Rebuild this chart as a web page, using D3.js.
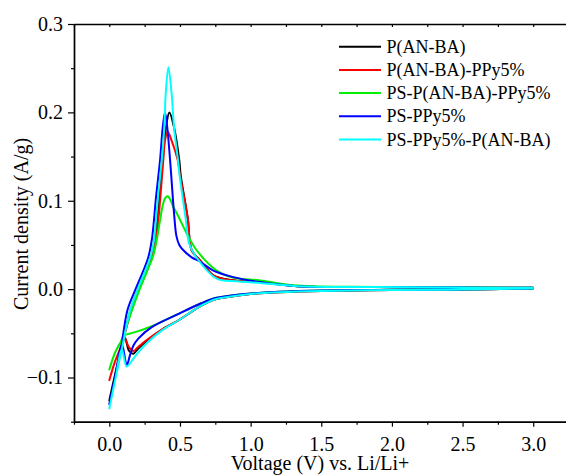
<!DOCTYPE html>
<html>
<head>
<meta charset="utf-8">
<script src="https://cdn.jsdelivr.net/npm/d3@7"></script>
<style>
  html, body { margin: 0; padding: 0; background: #fff; }
  svg { display: block; }
  svg text { font-family: "Liberation Serif", "Times New Roman", serif !important; fill: #000; }
</style>
</head>
<body>
<svg id="chart" width="566" height="475"></svg>
<script>
// ---- Data (Voltage V, Current density A/g), cathodic sweep 3.0 -> 0 then anodic 0 -> 3.0 ----
const seriesNames = ["P(AN-BA)", "P(AN-BA)-PPy5%", "PS-P(AN-BA)-PPy5%", "PS-PPy5%", "PS-PPy5%-P(AN-BA)"];
const seriesColors = ["#000000", "#ff0000", "#00ee00", "#0000ff", "#00ffff"];

const pAnBa = [
  [3.0,0.0008],[2.5,-0.0005],[2.0,-0.001],[1.5,-0.002],[1.2,-0.0035],[1.0,-0.0055],[0.85,-0.0085],[0.75,-0.0115],
  [0.654,-0.0185],[0.488,-0.0355],[0.37,-0.046],[0.253,-0.06],[0.2,-0.068],[0.17,-0.073],[0.14,-0.07],[0.11,-0.055],
  [0.08,-0.07],[0.04,-0.097],[0,-0.126],
  [0.04,-0.097],[0.08,-0.07],[0.15,-0.024],[0.2,-0.0015],[0.26,0.021],[0.295,0.036],[0.323,0.055],[0.34,0.078],
  [0.352,0.1],[0.378,0.146],[0.401,0.183],[0.425,0.2],[0.458,0.183],[0.495,0.146],[0.505,0.129],
  [0.555,0.08],[0.583,0.044],[0.642,0.0325],[0.736,0.0155],[0.807,0.0118],[0.9,0.0095],[1.066,0.008],
  [1.33,0.0034],[1.9,0.0023],[2.5,0.0018],[3.0,0.0016]
];
const pAnBaPPy = [
  [3.0,0.0008],[2.5,-0.0005],[2.0,-0.001],[1.5,-0.002],[1.2,-0.0035],[1.0,-0.0055],[0.85,-0.0085],[0.75,-0.0115],
  [0.654,-0.0185],[0.488,-0.0355],[0.37,-0.046],[0.253,-0.059],[0.2,-0.066],[0.17,-0.07],[0.14,-0.066],[0.115,-0.057],
  [0.105,-0.054],[0.08,-0.066],[0.04,-0.082],[0,-0.103],
  [0.04,-0.082],[0.08,-0.066],[0.11,-0.05],[0.155,-0.024],[0.205,-0.0015],[0.265,0.021],[0.3,0.036],[0.33,0.055],
  [0.347,0.078],[0.359,0.1],[0.382,0.146],[0.394,0.168],[0.413,0.178],[0.441,0.168],[0.484,0.146],[0.5,0.129],
  [0.555,0.08],[0.583,0.044],[0.642,0.0325],[0.736,0.0155],[0.807,0.0115],[0.9,0.0095],[1.066,0.008],
  [1.33,0.0034],[1.9,0.0023],[2.5,0.0018],[3.0,0.0016]
];
const psPAnBaPPy = [
  [3.0,0.0008],[2.5,-0.0003],[2.0,-0.0008],[1.5,-0.0015],[1.2,-0.003],[1.0,-0.005],[0.85,-0.0075],[0.75,-0.01],
  [0.65,-0.016],[0.49,-0.028],[0.394,-0.035],[0.3,-0.042],[0.205,-0.0475],[0.14,-0.0505],[0.11,-0.052],
  [0.08,-0.06],[0.04,-0.072],[0,-0.091],
  [0.04,-0.072],[0.08,-0.06],[0.11,-0.047],[0.16,-0.024],[0.212,-0.0015],[0.269,0.021],[0.307,0.036],[0.335,0.055],
  [0.359,0.078],[0.378,0.095],[0.395,0.103],[0.413,0.105],[0.435,0.1],[0.453,0.093],[0.48,0.085],[0.548,0.063],
  [0.618,0.044],[0.76,0.021],[0.878,0.0129],[1.066,0.0099],[1.33,0.004],[1.9,0.0025],[2.5,0.0019],[3.0,0.0016]
];
const psPPy = [
  [3.0,0.0008],[2.5,-0.0003],[2.0,-0.0008],[1.5,-0.0015],[1.2,-0.003],[1.0,-0.005],[0.85,-0.0075],[0.75,-0.01],
  [0.65,-0.016],[0.49,-0.028],[0.3,-0.043],[0.205,-0.056],[0.17,-0.064],[0.146,-0.075],[0.123,-0.086],
  [0.09,-0.063],[0.04,-0.1],[0,-0.13],
  [0.04,-0.1],[0.08,-0.07],[0.128,-0.024],[0.182,-0.0015],[0.241,0.021],[0.276,0.036],[0.3,0.055],[0.316,0.078],
  [0.328,0.1],[0.359,0.146],[0.378,0.183],[0.394,0.2],[0.41,0.183],[0.43,0.146],[0.46,0.082],
  [0.475,0.06],[0.495,0.05],[0.524,0.044],[0.583,0.036],[0.642,0.031],[0.736,0.021],[0.878,0.0136],[1.066,0.008],
  [1.33,0.0034],[1.9,0.0023],[2.5,0.0018],[3.0,0.0016]
];
const psPPyPAnBa = [
  [3.0,0.0008],[2.5,-0.0005],[2.0,-0.001],[1.5,-0.002],[1.2,-0.0035],[1.0,-0.0055],[0.85,-0.0085],[0.75,-0.0115],
  [0.654,-0.0185],[0.488,-0.0355],[0.37,-0.047],[0.253,-0.063],[0.182,-0.076],[0.123,-0.0875],[0.088,-0.068],
  [0.045,-0.1],[0,-0.135],
  [0.045,-0.1],[0.088,-0.068],[0.147,-0.024],[0.198,-0.0015],[0.255,0.021],[0.29,0.036],[0.316,0.055],[0.33,0.078],
  [0.342,0.1],[0.371,0.146],[0.389,0.183],[0.399,0.221],[0.418,0.251],[0.441,0.221],[0.458,0.183],[0.486,0.146],
  [0.497,0.129],[0.54,0.08],[0.566,0.051],[0.618,0.0355],[0.76,0.0118],[0.9,0.009],[1.066,0.007],
  [1.33,0.0034],[1.9,0.0023],[2.5,0.0018],[3.0,0.0016]
];
const seriesData = [pAnBa, pAnBaPPy, psPAnBaPPy, psPPy, psPPyPAnBa];

const xMajorTicks = [0.0, 0.5, 1.0, 1.5, 2.0, 2.5, 3.0];
const xMinorTicks = [-0.25, 0.25, 0.75, 1.25, 1.75, 2.25, 2.75, 3.25];
const yMajorTicks = [-0.1, 0.0, 0.1, 0.2, 0.3];
const yMinorTicks = [-0.15, -0.05, 0.05, 0.15, 0.25];
const xTitle = "Voltage (V) vs. Li/Li+";
const yTitle = "Current density (A/g)";

// ---- Layout ----
const FONT = "'Liberation Serif', 'Times New Roman', serif";
const svg = d3.select("#chart");
const plotLeft = 74, plotTop = 24, plotBottom = 421.7;
const x = d3.scaleLinear().domain([-0.25, 3.25]).range([plotLeft, plotLeft + 3.5 * 141.3]);
const y = d3.scaleLinear().domain([-0.15, 0.3]).range([plotBottom, plotTop]);
const fmt = d3.format(".1f");

// Bottom axis
const gx = svg.append("g").attr("transform", `translate(0,${plotBottom})`);
gx.call(d3.axisBottom(x).tickValues(xMajorTicks).tickSize(5).tickSizeOuter(0).tickFormat(fmt));
gx.append("g").call(d3.axisBottom(x).tickValues(xMinorTicks).tickSize(3).tickSizeOuter(0).tickFormat(""));
// Top axis (ticks inward)
const gt = svg.append("g").attr("transform", `translate(0,${plotTop})`);
gt.call(d3.axisBottom(x).tickValues(xMajorTicks.concat(xMinorTicks)).tickSize(3).tickSizeOuter(0).tickFormat(""));
// Left axis
const gy = svg.append("g").attr("transform", `translate(${plotLeft},0)`);
gy.call(d3.axisLeft(y).tickValues(yMajorTicks).tickSize(6).tickSizeOuter(0).tickPadding(5).tickFormat(fmt));
gy.append("g").call(d3.axisLeft(y).tickValues(yMinorTicks).tickSize(3).tickSizeOuter(0).tickFormat(""));

svg.selectAll("g").attr("font-family", FONT);
svg.selectAll(".domain").attr("stroke", "#000").attr("stroke-width", 1.4);
svg.selectAll(".tick line").attr("stroke", "#000").attr("stroke-width", 1.2);
svg.selectAll(".tick text").style("font-family", FONT).attr("font-size", 20).attr("fill", "#000");
gx.selectAll(".tick text").attr("dy", "1.05em");

// Data lines
const line = d3.line().x(d => x(d[0])).y(d => y(d[1])).curve(d3.curveCatmullRom.alpha(0.5));
svg.append("g").selectAll("path").data(seriesData).join("path")
  .attr("d", d => line(d))
  .attr("fill", "none")
  .attr("stroke", (d, i) => seriesColors[i])
  .attr("stroke-width", 2)
  .attr("stroke-linejoin", "round");

// Axis titles
svg.append("text").attr("x", 320).attr("y", 470).attr("text-anchor", "middle")
  .style("font-family", FONT).attr("font-size", 20).text(xTitle);
svg.append("text").attr("transform", "translate(28,224) rotate(-90)").attr("text-anchor", "middle")
  .style("font-family", FONT).attr("font-size", 20).text(yTitle);

// Legend
const legend = svg.append("g");
seriesNames.forEach((name, i) => {
  const ly = 46.7 + i * 23.2;
  legend.append("line").attr("x1", 339).attr("x2", 381).attr("y1", ly).attr("y2", ly)
    .attr("stroke", seriesColors[i]).attr("stroke-width", 2);
  legend.append("text").attr("x", 386.5).attr("y", ly + 6).style("font-family", FONT)
    .attr("font-size", 18).text(name);
});
</script>
</body>
</html>
